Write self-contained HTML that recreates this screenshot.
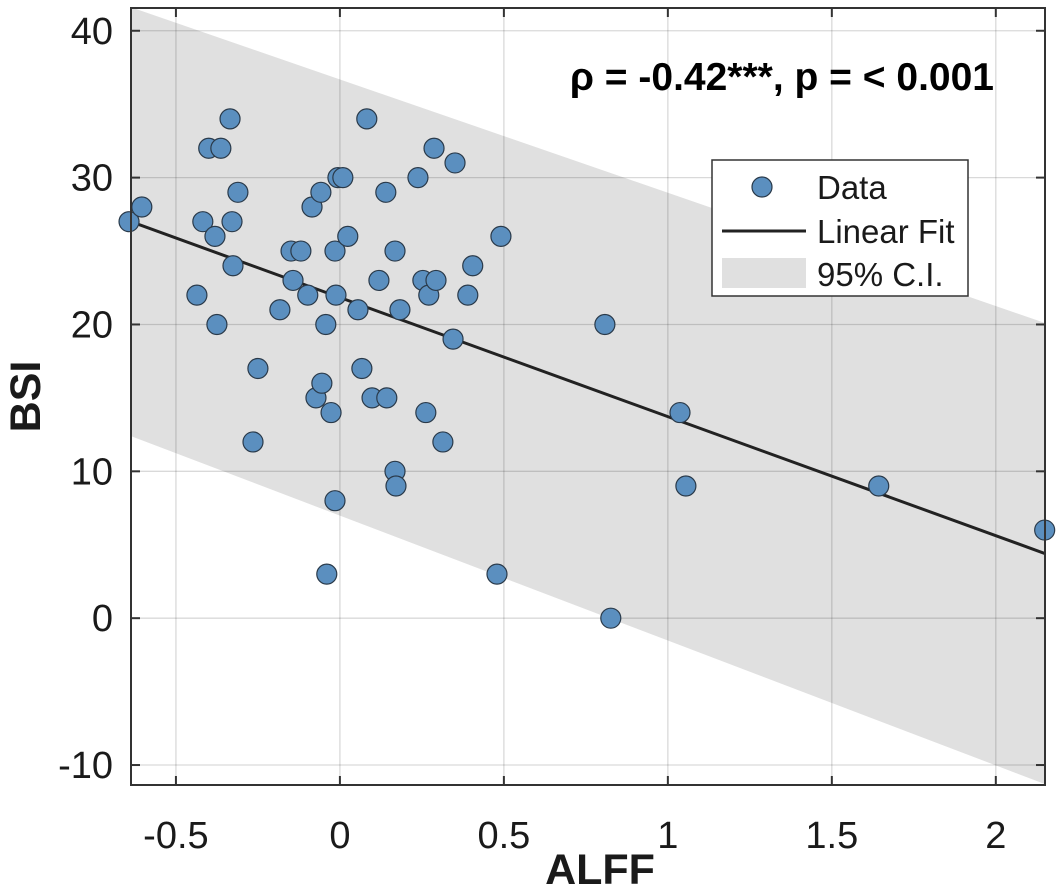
<!DOCTYPE html>
<html><head><meta charset="utf-8"><style>
html,body{margin:0;padding:0;background:#fff;}
svg{display:block;font-family:"Liberation Sans",Arial,sans-serif;}
</style></head><body>
<svg id="chart" width="1063" height="896"></svg>
<script>
const xData=[-0.643,-0.604,-0.436,-0.418,-0.40,-0.381,-0.375,-0.363,-0.335,-0.329,-0.326,-0.311,-0.25,-0.265,-0.183,-0.149,-0.143,-0.119,-0.098,-0.085,-0.073,-0.058,-0.055,-0.043,-0.040,-0.027,-0.015,-0.015,-0.012,-0.006,0.009,0.024,0.055,0.067,0.082,0.098,0.119,0.140,0.143,0.168,0.168,0.171,0.183,0.238,0.253,0.262,0.271,0.287,0.293,0.314,0.345,0.351,0.390,0.405,0.479,0.491,0.808,0.826,1.037,1.055,1.643,2.149];
const yData=[27,28,22,27,32,26,20,32,34,27,24,29,17,12,21,25,23,25,22,28,15,29,16,20,3,14,8,25,22,30,30,26,21,17,34,15,23,29,15,10,25,9,21,30,23,14,22,32,23,12,19,31,22,24,3,26,20,0,14,9,9,6];
const fitX=[-0.637,2.15];
const fitY=[27.0,4.4];
const ciUpper=[41.6,20.1];
const ciLower=[12.4,-11.3];
const xTicks=[-0.5,0,0.5,1,1.5,2];
const xTickLabels=["-0.5","0","0.5","1","1.5","2"];
const yTicks=[-10,0,10,20,30,40];
const yTickLabels=["-10","0","10","20","30","40"];

const L=131,R=1045,T=8,B=785;
const X0=-0.637,X1=2.150,Y0=-11.36,Y1=41.55;
const sx=v=>L+(v-X0)/(X1-X0)*(R-L);
const sy=v=>B-(v-Y0)/(Y1-Y0)*(B-T);
const svg=document.getElementById('chart');
const NS='http://www.w3.org/2000/svg';
function mk(tag,attrs,parent){const e=document.createElementNS(NS,tag);for(const k in attrs)e.setAttribute(k,attrs[k]);(parent||svg).appendChild(e);return e;}

const defs=mk('defs',{});
const cp=mk('clipPath',{id:'clip'},defs);
mk('rect',{x:L,y:T,width:R-L,height:B-T},cp);

const band=mk('polygon',{points:`${sx(fitX[0])},${sy(ciUpper[0])} ${sx(fitX[1])},${sy(ciUpper[1])} ${sx(fitX[1])},${sy(ciLower[1])} ${sx(fitX[0])},${sy(ciLower[0])}`,fill:'#e0e0e0','clip-path':'url(#clip)'});



xTicks.forEach((t,i)=>{
  const g=mk('line',{x1:sx(t),x2:sx(t),y1:T,y2:B,stroke:'#000','stroke-opacity':0.15,'stroke-width':1.3});
  
  
});
yTicks.forEach((t,i)=>{
  const g=mk('line',{x1:L,x2:R,y1:sy(t),y2:sy(t),stroke:'#000','stroke-opacity':0.15,'stroke-width':1.3});
  
  
});

const fl=mk('line',{x1:sx(fitX[0]),y1:sy(fitY[0]),x2:sx(fitX[1]),y2:sy(fitY[1]),stroke:'#222','stroke-width':3,'clip-path':'url(#clip)'});



xData.forEach((v,i)=>{
  const c=mk('circle',{cx:sx(v),cy:sy(yData[i]),r:10,fill:'#5b8fbf',stroke:'#2a3a4a','stroke-width':1.2});
  
  
});

const fr=mk('rect',{x:L,y:T,width:R-L,height:B-T,fill:'none',stroke:'#333','stroke-width':2});



xTicks.forEach((t,i)=>{
  mk('line',{x1:sx(t),x2:sx(t),y1:B,y2:B-9,stroke:'#333','stroke-width':2});
  mk('line',{x1:sx(t),x2:sx(t),y1:T,y2:T+9,stroke:'#333','stroke-width':2});
  const tx=mk('text',{x:sx(t),y:B+63,'text-anchor':'middle','font-size':38,fill:'#1a1a1a'});
  tx.textContent=xTickLabels[i];
  
  
});
yTicks.forEach((t,i)=>{
  mk('line',{x1:L,x2:L+9,y1:sy(t),y2:sy(t),stroke:'#333','stroke-width':2});
  mk('line',{x1:R,x2:R-9,y1:sy(t),y2:sy(t),stroke:'#333','stroke-width':2});
  const tx=mk('text',{x:L-18,y:sy(t)+13,'text-anchor':'end','font-size':38,fill:'#1a1a1a'});
  tx.textContent=yTickLabels[i];
  
  
});

const xt=mk('text',{x:600,y:884,'text-anchor':'middle','font-size':43,'font-weight':'bold',fill:'#1a1a1a'});
xt.textContent='ALFF';


const yt=mk('text',{x:0,y:0,'text-anchor':'middle','font-size':43,'font-weight':'bold',fill:'#1a1a1a',transform:`translate(40,${(T+B)/2}) rotate(-90)`});
yt.textContent='BSI';



const an=mk('text',{x:994,y:90,'text-anchor':'end','font-size':39,'font-weight':'bold',fill:'#000'});
an.textContent='ρ = -0.42***, p = < 0.001';



const lg=mk('g',{});


mk('rect',{x:712,y:160,width:256,height:136,fill:'#fff',stroke:'#333','stroke-width':1.5},lg);
const c1=mk('circle',{cx:762,cy:187,r:10,fill:'#5b8fbf',stroke:'#2a3a4a','stroke-width':1.2},lg);


mk('line',{x1:722,x2:806,y1:231,y2:231,stroke:'#222','stroke-width':3},lg);
mk('rect',{x:722,y:258,width:84,height:30,fill:'#e0e0e0'},lg);
[['Data',199],['Linear Fit',243],['95% C.I.',286]].forEach(([s,y])=>{
  const t=mk('text',{x:817,y:y,'font-size':33,fill:'#1a1a1a'},lg);
  t.textContent=s;
  
  
});
</script>
</body></html>
